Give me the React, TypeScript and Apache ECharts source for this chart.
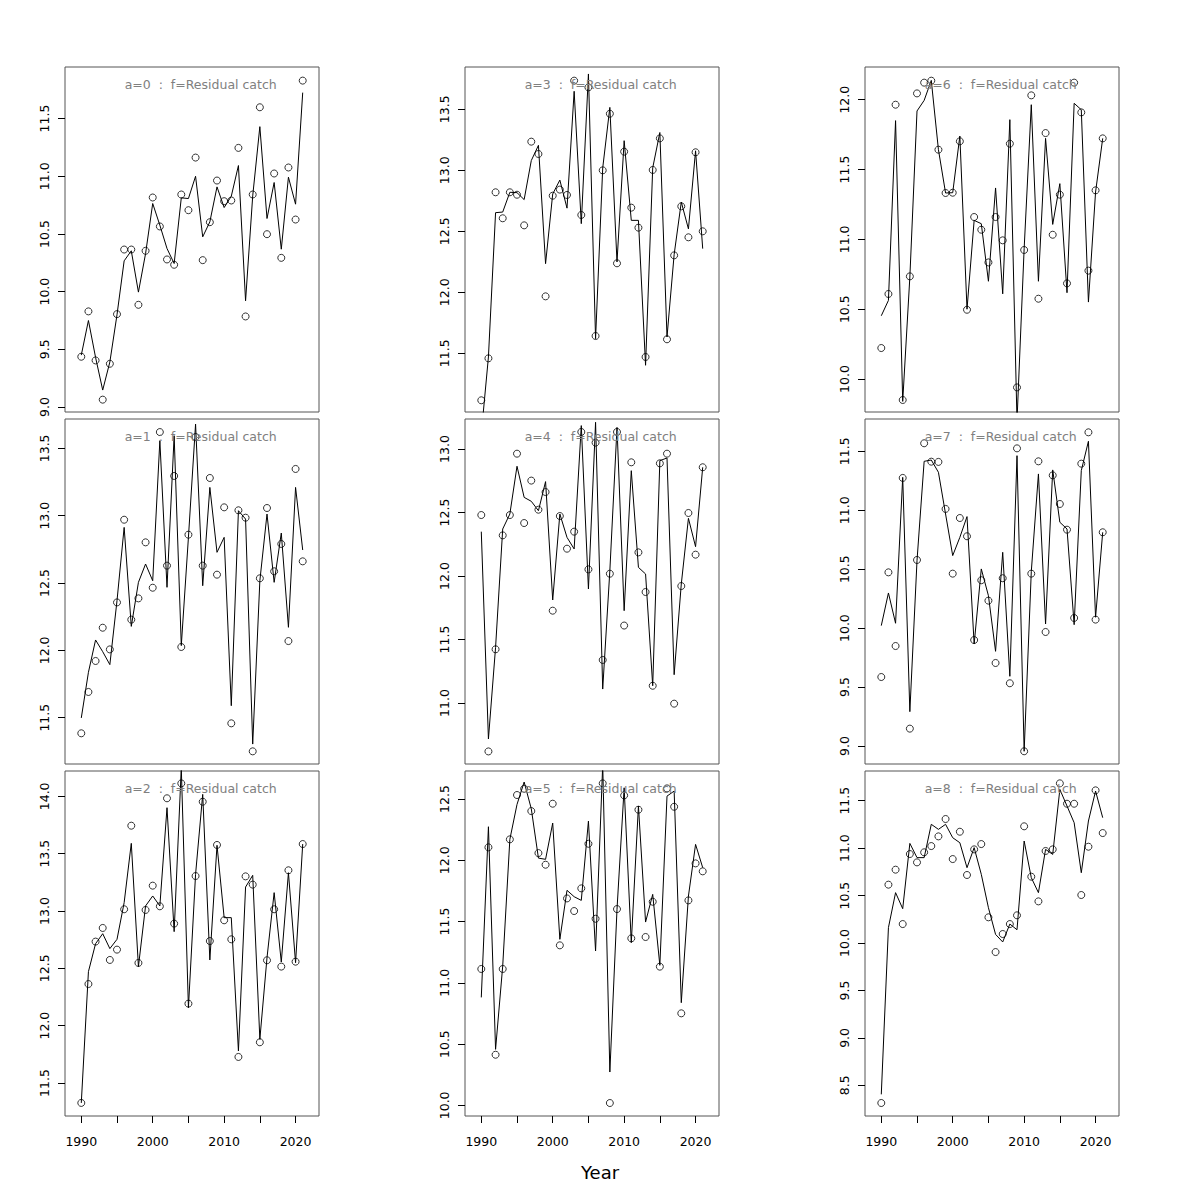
import React, { useEffect, useRef } from "react";
import * as echarts from "echarts";

const years = [1990, 1991, 1992, 1993, 1994, 1995, 1996, 1997, 1998, 1999, 2000, 2001, 2002, 2003, 2004, 2005, 2006, 2007, 2008, 2009, 2010, 2011, 2012, 2013, 2014, 2015, 2016, 2017, 2018, 2019, 2020, 2021];

const obsA0 = [9.436, 9.829, 9.404, 9.064, 9.375, 9.805, 10.365, 10.365, 9.886, 10.354, 10.816, 10.565, 10.279, 10.233, 10.842, 10.706, 11.162, 10.273, 10.602, 10.963, 10.784, 10.79, 11.246, 9.785, 10.842, 11.598, 10.498, 11.024, 10.293, 11.076, 10.625, 11.829];
const fitA0 = [9.45, 9.75, 9.43, 9.147, 9.39, 9.8, 10.267, 10.354, 9.996, 10.33, 10.764, 10.576, 10.374, 10.244, 10.813, 10.807, 11.0, 10.475, 10.605, 10.908, 10.729, 10.827, 11.093, 9.921, 10.83, 11.43, 10.634, 10.946, 10.368, 10.992, 10.758, 11.725];

const obsA1 = [11.384, 11.691, 11.921, 12.168, 12.007, 12.356, 12.97, 12.228, 12.386, 12.802, 12.465, 13.621, 12.629, 13.295, 12.025, 12.859, 13.584, 12.629, 13.28, 12.562, 13.062, 11.458, 13.04, 12.985, 11.25, 12.535, 13.057, 12.587, 12.79, 12.069, 13.347, 12.661];
const fitA1 = [11.498, 11.837, 12.077, 11.99, 11.894, 12.369, 12.913, 12.178, 12.505, 12.641, 12.517, 13.557, 12.468, 13.594, 12.035, 12.839, 13.68, 12.48, 13.21, 12.728, 12.839, 11.589, 13.037, 12.975, 11.304, 12.517, 13.012, 12.505, 12.871, 12.171, 13.21, 12.745];

const obsA2 = [11.326, 12.363, 12.733, 12.852, 12.573, 12.663, 13.015, 13.744, 12.547, 13.009, 13.221, 13.041, 13.983, 12.89, 14.113, 12.192, 13.305, 13.953, 12.738, 13.576, 12.919, 12.753, 11.727, 13.302, 13.23, 11.855, 12.57, 13.015, 12.515, 13.355, 12.558, 13.584];
const fitA2 = [11.326, 12.471, 12.715, 12.802, 12.672, 12.753, 13.073, 13.59, 12.515, 13.044, 13.131, 13.044, 13.901, 12.82, 14.25, 12.157, 13.32, 14.017, 12.573, 13.573, 12.942, 12.942, 11.779, 13.209, 13.311, 11.881, 12.593, 13.16, 12.555, 13.334, 12.549, 13.584];

const obsA3 = [11.115, 11.459, 12.82, 12.607, 12.82, 12.8, 12.549, 13.235, 13.134, 11.967, 12.792, 12.842, 12.798, 13.735, 12.634, 13.68, 11.642, 13.0, 13.464, 12.238, 13.153, 12.694, 12.53, 11.47, 13.003, 13.262, 11.615, 12.303, 12.705, 12.451, 13.148, 12.5];
const fitA3 = [10.84, 11.47, 12.653, 12.658, 12.82, 12.817, 12.76, 13.08, 13.205, 12.235, 12.806, 12.92, 12.69, 13.648, 12.563, 13.79, 11.62, 13.019, 13.516, 12.249, 13.243, 12.59, 12.59, 11.402, 13.02, 13.31, 11.634, 12.31, 12.74, 12.52, 13.16, 12.358];

const obsA4 = [12.48, 10.619, 11.423, 12.32, 12.48, 12.963, 12.417, 12.751, 12.522, 12.661, 11.727, 12.472, 12.215, 12.349, 13.134, 12.052, 13.05, 11.339, 12.018, 13.134, 11.61, 12.895, 12.186, 11.874, 11.136, 12.887, 12.963, 10.995, 11.921, 12.496, 12.168, 12.856];
const fitA4 = [12.349, 10.717, 11.438, 12.37, 12.488, 12.864, 12.619, 12.588, 12.514, 12.743, 11.811, 12.488, 12.304, 12.213, 13.184, 11.898, 13.21, 11.11, 12.042, 13.17, 11.727, 12.829, 12.068, 12.016, 11.136, 12.908, 12.929, 11.223, 11.937, 12.454, 12.231, 12.856];

const obsA5 = [11.113, 12.106, 10.413, 11.113, 12.171, 12.533, 12.584, 12.402, 12.059, 11.964, 12.462, 11.306, 11.689, 11.586, 11.771, 12.135, 11.523, 12.628, 10.019, 11.602, 12.53, 11.363, 12.413, 11.374, 11.662, 11.132, 12.587, 12.437, 10.751, 11.673, 11.975, 11.91];
const fitA5 = [10.881, 12.274, 10.457, 11.137, 12.171, 12.456, 12.639, 12.421, 12.018, 12.008, 12.304, 11.355, 11.755, 11.703, 11.673, 12.32, 11.26, 12.78, 10.272, 11.6, 12.592, 11.328, 12.443, 11.496, 11.722, 11.143, 12.524, 12.565, 10.838, 11.708, 12.13, 11.94];

const obsA6 = [10.222, 10.609, 11.964, 9.85, 10.735, 12.045, 12.122, 12.136, 11.642, 11.332, 11.334, 11.702, 10.496, 11.16, 11.069, 10.835, 11.16, 10.993, 11.685, 9.94, 10.924, 12.031, 10.575, 11.761, 11.033, 11.32, 10.685, 12.122, 11.909, 10.776, 11.351, 11.723];
const fitA6 = [10.453, 10.563, 11.85, 9.84, 10.73, 11.919, 11.995, 12.138, 11.642, 11.332, 11.334, 11.74, 10.5, 11.136, 11.112, 10.7, 11.368, 10.61, 11.857, 9.7, 10.933, 11.964, 10.7, 11.723, 11.107, 11.399, 10.618, 11.974, 11.928, 10.551, 11.339, 11.723];

const obsA7 = [9.585, 10.473, 9.848, 11.274, 9.147, 10.578, 11.568, 11.412, 11.41, 11.011, 10.462, 10.934, 10.779, 9.899, 10.406, 10.233, 9.704, 10.423, 9.532, 11.525, 8.955, 10.462, 11.415, 9.967, 11.296, 11.053, 10.835, 10.086, 11.395, 11.661, 10.072, 10.813];
const fitA7 = [10.021, 10.298, 10.041, 11.279, 9.291, 10.572, 11.415, 11.426, 11.322, 10.968, 10.615, 10.77, 10.946, 9.865, 10.502, 10.275, 9.803, 10.643, 9.591, 11.463, 8.955, 10.479, 11.308, 10.035, 11.342, 10.898, 10.841, 10.029, 11.336, 11.585, 10.092, 10.813];

const obsA8 = [8.314, 10.615, 10.773, 10.2, 10.938, 10.85, 10.956, 11.022, 11.124, 11.307, 10.885, 11.173, 10.717, 10.987, 11.043, 10.271, 9.905, 10.095, 10.2, 10.292, 11.23, 10.699, 10.439, 10.97, 10.987, 11.683, 11.468, 11.468, 10.506, 11.015, 11.609, 11.159];
const fitA8 = [8.405, 10.162, 10.531, 10.362, 11.05, 10.9, 10.9, 11.251, 11.198, 11.251, 11.11, 11.057, 10.794, 11.005, 10.724, 10.372, 10.091, 10.011, 10.2, 10.14, 11.075, 10.689, 10.531, 10.987, 10.934, 11.619, 11.444, 11.268, 10.741, 11.286, 11.602, 11.321];

const panelTitles = ["a=0", "a=1", "a=2", "a=3", "a=4", "a=5", "a=6", "a=7", "a=8"];
const titleSuffix = "  :  f=Residual catch";

const yLimits = [
  [8.957, 11.947],
  [11.156, 13.718],
  [11.212, 14.221],
  [11.019, 13.847],
  [10.52, 13.236],
  [9.913, 12.729],
  [9.764, 12.234],
  [8.847, 11.774],
  [8.177, 11.813],
];

const yTicks = [
  [9.0, 9.5, 10.0, 10.5, 11.0, 11.5],
  [11.5, 12.0, 12.5, 13.0, 13.5],
  [11.5, 12.0, 12.5, 13.0, 13.5, 14.0],
  [11.5, 12.0, 12.5, 13.0, 13.5],
  [11.0, 11.5, 12.0, 12.5, 13.0],
  [10.0, 10.5, 11.0, 11.5, 12.0, 12.5],
  [10.0, 10.5, 11.0, 11.5, 12.0],
  [9.0, 9.5, 10.0, 10.5, 11.0, 11.5],
  [8.5, 9.0, 9.5, 10.0, 10.5, 11.0, 11.5],
];

const xLimits = [1987.72, 2023.28];
const xTickValues = [1990, 1995, 2000, 2005, 2010, 2015, 2020];
const xLabelValues = [1990, 2000, 2010, 2020];

const observed = [obsA0, obsA1, obsA2, obsA3, obsA4, obsA5, obsA6, obsA7, obsA8];
const fitted = [fitA0, fitA1, fitA2, fitA3, fitA4, fitA5, fitA6, fitA7, fitA8];

const FONT = "DejaVu Sans";

export default function App() {
  const ref = useRef<HTMLDivElement>(null);

  useEffect(() => {
    if (!ref.current) return;
    const chart = echarts.init(ref.current, undefined, { renderer: "svg" });

    const colLeft = [65, 465, 865];
    const rowTop = [67, 419, 771];
    const gw = 254;
    const gh = 345;

    const grids: any[] = [];
    const xAxes: any[] = [];
    const yAxes: any[] = [];
    const series: any[] = [];
    const graphics: any[] = [];

    for (let k = 0; k < 9; k++) {
      const col = Math.floor(k / 3);
      const row = k % 3;
      const left = colLeft[col];
      const top = rowTop[row];
      const bottomRow = row === 2;

      grids.push({
        left,
        top,
        width: gw,
        height: gh,
        show: true,
        borderColor: "#555",
        borderWidth: 1,
        backgroundColor: "transparent",
        containLabel: false,
      });

      xAxes.push({
        type: "value",
        gridIndex: k,
        min: xLimits[0],
        max: xLimits[1],
        axisLine: { show: false },
        splitLine: { show: false },
        axisTick: {
          show: bottomRow,
          customValues: xTickValues,
          length: 7,
          lineStyle: { color: "#000", width: 1 },
        },
        axisLabel: {
          show: bottomRow,
          customValues: xLabelValues,
          margin: 19,
          fontSize: 12.5,
          fontFamily: FONT,
          color: "#000",
          formatter: (v: number) => String(Math.round(v)),
        },
      });

      yAxes.push({
        type: "value",
        gridIndex: k,
        min: yLimits[k][0],
        max: yLimits[k][1],
        axisLine: { show: false },
        splitLine: { show: false },
        axisTick: {
          show: true,
          customValues: yTicks[k],
          length: 7,
          lineStyle: { color: "#000", width: 1 },
        },
        axisLabel: {
          show: true,
          customValues: yTicks[k],
          rotate: 90,
          margin: 14,
          fontSize: 12.5,
          fontFamily: FONT,
          color: "#000",
          formatter: (v: number) => v.toFixed(1),
        },
      });

      series.push({
        type: "line",
        xAxisIndex: k,
        yAxisIndex: k,
        data: years.map((yr, i) => [yr, fitted[k][i]]),
        symbol: "none",
        clip: true,
        lineStyle: { color: "#000", width: 1 },
        z: 2,
      });

      series.push({
        type: "scatter",
        xAxisIndex: k,
        yAxisIndex: k,
        data: years.map((yr, i) => [yr, observed[k][i]]),
        symbol: "circle",
        symbolSize: 7,
        clip: true,
        itemStyle: { color: "rgba(0,0,0,0)", borderColor: "#000", borderWidth: 1 },
        z: 3,
      });

      graphics.push({
        type: "text",
        x: left + 135.7,
        y: top + 17,
        z: 10,
        style: {
          text: panelTitles[k] + titleSuffix,
          fill: "#808080",
          fontSize: 12.5,
          fontFamily: FONT,
          align: "center",
          verticalAlign: "middle",
        },
      });
    }

    graphics.push({
      type: "text",
      x: 600,
      y: 1172,
      style: {
        text: "Year",
        fill: "#000",
        fontSize: 18,
        fontFamily: FONT,
        align: "center",
        verticalAlign: "middle",
      },
    });

    chart.setOption({
      animation: false,
      backgroundColor: "#fff",
      textStyle: { fontFamily: FONT },
      grid: grids,
      xAxis: xAxes,
      yAxis: yAxes,
      series,
      graphic: graphics,
    });

    return () => chart.dispose();
  }, []);

  return (
    <div
      ref={ref}
      style={{ position: "absolute", left: 0, top: 0, width: 1200, height: 1200 }}
    />
  );
}
